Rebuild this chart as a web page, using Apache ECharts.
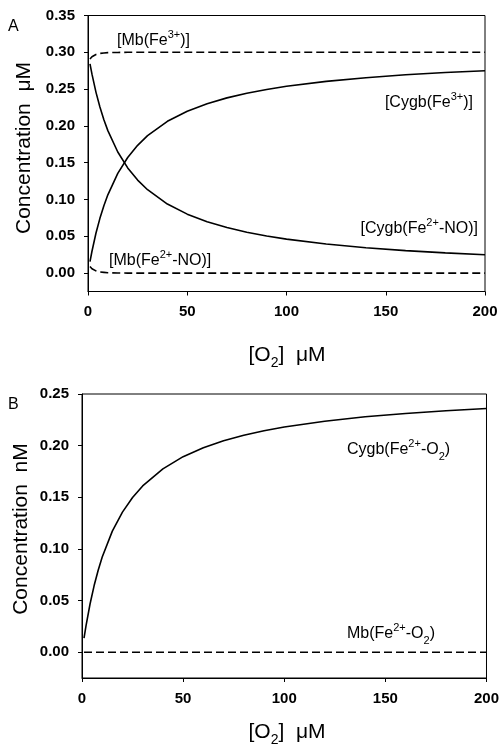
<!DOCTYPE html>
<html>
<head>
<meta charset="utf-8">
<script src="https://cdn.jsdelivr.net/npm/echarts@6/dist/echarts.min.js"></script>
<style>
  html, body { margin: 0; padding: 0; background: #fff; }
  #chart { width: 502px; height: 751px; }
</style>
</head>
<body>
<div id="chart"></div>
<script>
// O2 concentration (µM) sampled along the x axis
const o2 = [1, 2, 4, 6, 8, 10, 15, 20, 25, 30, 40, 50, 60, 70, 80, 90, 100, 120, 140, 160, 180, 200];

// Panel A: species concentrations (µM)
const cygbFe3 = [0.0156, 0.0297, 0.0541, 0.0744, 0.0916, 0.1064, 0.1355, 0.1571, 0.1736, 0.1867, 0.2062,
                 0.2199, 0.2302, 0.2381, 0.2444, 0.2495, 0.2538, 0.2605, 0.2655, 0.2694, 0.2725, 0.2750];
const cygbNO  = [0.2844, 0.2703, 0.2459, 0.2256, 0.2084, 0.1936, 0.1645, 0.1429, 0.1264, 0.1133, 0.0938,
                 0.0801, 0.0698, 0.0619, 0.0556, 0.0505, 0.0462, 0.0395, 0.0345, 0.0306, 0.0275, 0.0250];
const mbFe3   = [0.291, 0.294, 0.297, 0.2985, 0.299, 0.2995, 0.2998, 0.300, 0.300, 0.300, 0.300,
                 0.300, 0.300, 0.300, 0.300, 0.300, 0.300, 0.300, 0.300, 0.300, 0.300, 0.300];
const mbNO    = [0.009, 0.006, 0.003, 0.0015, 0.001, 0.0005, 0.0002, 0, 0, 0, 0,
                 0, 0, 0, 0, 0, 0, 0, 0, 0, 0, 0];

// Panel B: oxygenated species (nM)
const cygbO2  = [0.0136, 0.0258, 0.0469, 0.0645, 0.0794, 0.0921, 0.1172, 0.1356, 0.1498, 0.1610, 0.1775,
                 0.1893, 0.1979, 0.2047, 0.2100, 0.2144, 0.2180, 0.2236, 0.2279, 0.2311, 0.2338, 0.2359];
const mbO2    = [0, 0, 0, 0, 0, 0, 0, 0, 0, 0, 0,
                 0, 0, 0, 0, 0, 0, 0, 0, 0, 0, 0];

// Tick labels
const xTicks  = [0, 50, 100, 150, 200];
const yTicksA = [0, 0.05, 0.10, 0.15, 0.20, 0.25, 0.30, 0.35];
const yTicksB = [0, 0.05, 0.10, 0.15, 0.20, 0.25];

const FONT = 'Liberation Sans, Arial, sans-serif';
const pairs = ys => o2.map((x, i) => [x, ys[i]]);

function xAxisFor(gridIndex) {
  return {
    type: 'value', gridIndex, min: 0, max: 200,
    axisLine: { show: true, onZero: false, lineStyle: { color: '#000', width: 1 } },
    axisTick: { show: true, length: 4, customValues: xTicks, lineStyle: { color: '#000' } },
    axisLabel: { customValues: xTicks, margin: 13, color: '#000', fontFamily: FONT, fontWeight: 'bold', fontSize: 15 },
    splitLine: { show: false }
  };
}
function yAxisFor(gridIndex, max, ticks) {
  return {
    type: 'value', gridIndex, min: -0.025, max,
    axisLine: { show: true, onZero: false, lineStyle: { color: '#000', width: 1 } },
    axisTick: { show: true, length: 4, customValues: ticks, lineStyle: { color: '#000' } },
    axisLabel: { customValues: ticks, margin: 13, color: '#000', fontFamily: FONT, fontWeight: 'bold', fontSize: 15,
                 formatter: v => v.toFixed(2) },
    splitLine: { show: false }
  };
}
function line(name, xi, ys, dashed) {
  return {
    name, type: 'line', xAxisIndex: xi, yAxisIndex: xi, data: pairs(ys),
    showSymbol: false, smooth: false, animation: false,
    lineStyle: { color: '#000', width: 1.6, type: dashed ? [8, 4] : 'solid' }
  };
}

// Rich-text styles: base text centred in the line box, superscripts hug its top, subscripts its bottom
const labelRich = {
  b: { fontSize: 16, fontFamily: FONT, color: '#000', lineHeight: 24, verticalAlign: 'middle' },
  sup: { fontSize: 11, fontFamily: FONT, color: '#000', lineHeight: 11, verticalAlign: 'top' },
  sub: { fontSize: 11, fontFamily: FONT, color: '#000', lineHeight: 11, verticalAlign: 'bottom' }
};
const titleRich = {
  b: { fontSize: 21, fontFamily: FONT, color: '#000', lineHeight: 30, verticalAlign: 'middle' },
  sub: { fontSize: 14, fontFamily: FONT, color: '#000', lineHeight: 14, verticalAlign: 'bottom' }
};
function txt(x, y, text, rich, align, rot) {
  return {
    type: 'text', x, y, rotation: rot || 0, silent: true,
    style: { text, rich, align: align || 'left', verticalAlign: 'middle', fill: '#000' }
  };
}

const chart = echarts.init(document.getElementById('chart'), null, { renderer: 'canvas' });
chart.setOption({
  backgroundColor: '#fff',
  animation: false,
  grid: [
    { left: 88, top: 15.5, width: 397, height: 276, show: true, borderColor: '#000', borderWidth: 1, backgroundColor: 'transparent' },
    { left: 82, top: 394, width: 405, height: 284, show: true, borderColor: '#000', borderWidth: 1, backgroundColor: 'transparent' }
  ],
  xAxis: [xAxisFor(0), xAxisFor(1)],
  yAxis: [yAxisFor(0, 0.35, yTicksA), yAxisFor(1, 0.25, yTicksB)],
  series: [
    line('[Mb(Fe3+)]', 0, mbFe3, true),
    line('[Mb(Fe2+-NO)]', 0, mbNO, true),
    line('[Cygb(Fe3+)]', 0, cygbFe3, false),
    line('[Cygb(Fe2+-NO)]', 0, cygbNO, false),
    line('Cygb(Fe2+-O2)', 1, cygbO2, false),
    line('Mb(Fe2+-O2)', 1, mbO2, true)
  ],
  graphic: [
    txt(8, 27, '{b|A}', { b: { fontSize: 16, fontFamily: FONT, color: '#000' } }),
    txt(8, 405, '{b|B}', { b: { fontSize: 16, fontFamily: FONT, color: '#000' } }),
    // series annotations, panel A
    txt(117, 41, '{b|[Mb(Fe}{sup|3+}{b|)]}', labelRich),
    txt(473, 103, '{b|[Cygb(Fe}{sup|3+}{b|)]}', labelRich, 'right'),
    txt(478, 229, '{b|[Cygb(Fe}{sup|2+}{b|-NO)]}', labelRich, 'right'),
    txt(109, 261, '{b|[Mb(Fe}{sup|2+}{b|-NO)]}', labelRich),
    // series annotations, panel B
    txt(347, 450, '{b|Cygb(Fe}{sup|2+}{b|-O}{sub|2}{b|)}', labelRich),
    txt(347, 634, '{b|Mb(Fe}{sup|2+}{b|-O}{sub|2}{b|)}', labelRich),
    // axis titles
    txt(24, 148, '{b|Concentration  \u03bcM}', titleRich, 'center', Math.PI / 2),
    txt(21, 529, '{b|Concentration  nM}', titleRich, 'center', Math.PI / 2),
    txt(287, 355, '{b|[O}{sub|2}{b|]  \u03bcM}', titleRich, 'center'),
    txt(287, 732, '{b|[O}{sub|2}{b|]  \u03bcM}', titleRich, 'center')
  ]
});
</script>
</body>
</html>
